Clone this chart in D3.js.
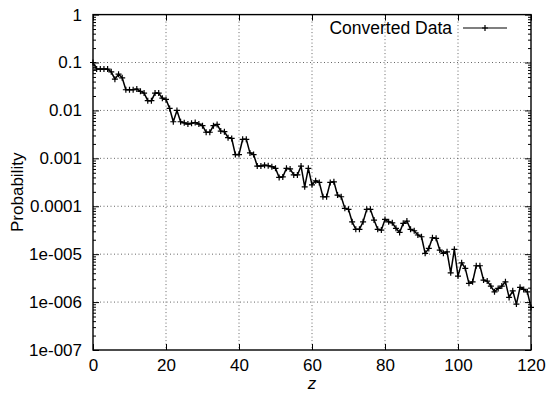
<!DOCTYPE html>
<html>
<head>
<meta charset="utf-8">
<script src="https://cdn.jsdelivr.net/npm/d3@7/dist/d3.min.js"></script>
<style>
  html, body { margin: 0; padding: 0; background: #fff; }
  svg { display: block; }
  text { font-family: "Liberation Sans", Arial, Helvetica, sans-serif; fill: #000; }
</style>
</head>
<body>
<svg id="chart" width="547" height="393"></svg>
<script>
// Probability of each z value, z = 0 .. 120 (one entry per integer z)
const probability = [
  0.1, 0.073, 0.073, 0.073, 0.073, 0.064, 0.045, 0.057, 0.048, 0.027,
  0.027, 0.027, 0.028, 0.025, 0.023, 0.016, 0.016, 0.023, 0.023, 0.018,
  0.017, 0.011, 0.0058, 0.010, 0.0058, 0.0055, 0.0052, 0.0054, 0.0056, 0.0052,
  0.0048, 0.0035, 0.0035, 0.0048, 0.0051, 0.0037, 0.0036, 0.0027, 0.0026, 0.0012,
  0.0012, 0.0025, 0.0025, 0.0013, 0.0012, 0.00069, 0.00069, 0.00072, 0.00070, 0.00067,
  0.00062, 0.00040, 0.00041, 0.00062, 0.00060, 0.00045, 0.00045, 0.00069, 0.000255, 0.00062,
  0.00028, 0.00034, 0.000315, 0.000158, 0.000158, 0.000315, 0.000324, 0.000171, 0.000158, 0.0000904,
  0.0000861, 0.0000474, 0.000033, 0.000033, 0.0000474, 0.0000861, 0.0000861, 0.0000515, 0.000033, 0.0000318,
  0.0000532, 0.0000474, 0.0000452, 0.0000346, 0.0000285, 0.000044, 0.0000491, 0.000033, 0.0000308, 0.0000251,
  0.0000231, 0.0000104, 0.0000132, 0.000022, 0.0000214, 0.0000122, 0.0000104, 0.0000112, 0.00000409, 0.0000126,
  0.00000349, 0.00000661, 0.00000506, 0.00000246, 0.00000265, 0.00000573, 0.00000573, 0.00000288, 0.00000274, 0.00000216,
  0.00000164, 0.00000193, 0.00000216, 0.00000265, 0.00000125, 0.00000172, 0.000000908, 0.00000203, 0.00000184, 0.00000164,
  0.000000775
];

const xTicks = [0, 20, 40, 60, 80, 100, 120];
const yTicks = [1e-7, 1e-6, 1e-5, 1e-4, 1e-3, 1e-2, 1e-1, 1];
const yTickLabels = ["1e-007", "1e-006", "1e-005", "0.0001", "0.001", "0.01", "0.1", "1"];
const seriesName = "Converted Data";
const xTitle = "z";
const yTitle = "Probability";

const svg = d3.select("#chart");
const plotLeft = 93, plotRight = 531, plotTop = 14.6, plotBottom = 350;
const fontSize = "17px";

const x = d3.scaleLinear().domain([0, 120]).range([plotLeft, plotRight]);
const y = d3.scaleLog().domain([1e-7, 1]).range([plotBottom, plotTop]);

// dotted grid at the inner major ticks
const grid = svg.append("g")
  .attr("stroke", "#666").attr("stroke-width", 1).attr("stroke-dasharray", "1,2.5");
xTicks.slice(1, -1).forEach(t => {
  grid.append("line").attr("x1", x(t)).attr("x2", x(t)).attr("y1", plotTop).attr("y2", plotBottom);
});
yTicks.slice(1, -1).forEach(t => {
  grid.append("line").attr("x1", plotLeft).attr("x2", plotRight).attr("y1", y(t)).attr("y2", y(t));
});

// axes: ticks drawn inward on all four sides
const majorLen = 6, minorLen = 3;
const bottomAxis = d3.axisBottom(x).tickValues(xTicks).tickSize(-majorLen).tickPadding(9)
  .tickFormat(d3.format("d"));
const topAxis = d3.axisTop(x).tickValues(xTicks).tickSize(-majorLen).tickFormat("");
const leftAxis = d3.axisLeft(y).tickValues(yTicks).tickSize(-majorLen).tickPadding(11)
  .tickFormat((d, i) => yTickLabels[i]);
const rightAxis = d3.axisRight(y).tickValues(yTicks).tickSize(-majorLen).tickFormat("");

// minor log ticks 2..9 within each decade
const minorTicks = [];
for (let e = -7; e < 0; e++) {
  for (let m = 2; m <= 9; m++) minorTicks.push(m * Math.pow(10, e));
}
const leftMinor = d3.axisLeft(y).tickValues(minorTicks).tickSize(-minorLen).tickFormat("");
const rightMinor = d3.axisRight(y).tickValues(minorTicks).tickSize(-minorLen).tickFormat("");

function styleAxis(g) {
  g.select(".domain").remove();
  g.selectAll(".tick line").attr("stroke", "#000").attr("stroke-width", 1);
  g.selectAll(".tick text").style("font-size", fontSize).attr("fill", "#000");
}

svg.append("g").attr("transform", `translate(0,${plotBottom})`).call(bottomAxis).call(styleAxis);
svg.append("g").attr("transform", `translate(0,${plotTop})`).call(topAxis).call(styleAxis);
svg.append("g").attr("transform", `translate(${plotLeft},0)`).call(leftAxis).call(styleAxis);
svg.append("g").attr("transform", `translate(${plotRight},0)`).call(rightAxis).call(styleAxis);
svg.append("g").attr("transform", `translate(${plotLeft},0)`).call(leftMinor).call(styleAxis);
svg.append("g").attr("transform", `translate(${plotRight},0)`).call(rightMinor).call(styleAxis);

// frame
svg.append("rect")
  .attr("x", plotLeft).attr("y", plotTop)
  .attr("width", plotRight - plotLeft).attr("height", plotBottom - plotTop)
  .attr("fill", "none").attr("stroke", "#000").attr("stroke-width", 1.4);

// series
const points = probability.map((p, i) => ({ z: i, p }));
const line = d3.line().x(d => x(d.z)).y(d => y(d.p));
svg.append("path")
  .datum(points)
  .attr("fill", "none").attr("stroke", "#000").attr("stroke-width", 1.5)
  .attr("stroke-linejoin", "round")
  .attr("d", line);

const plus = "M-3,0H3M0,-3V3";
svg.append("g").selectAll("path")
  .data(points).join("path")
  .attr("transform", d => `translate(${x(d.z)},${y(d.p)})`)
  .attr("d", plus)
  .attr("stroke", "#000").attr("stroke-width", 1.2).attr("fill", "none");

// legend
const legY = 28;
svg.append("text").attr("x", 452).attr("y", legY + 6).attr("text-anchor", "end")
  .style("font-size", "17.5px").text(seriesName);
svg.append("line").attr("x1", 463).attr("x2", 507).attr("y1", legY).attr("y2", legY)
  .attr("stroke", "#000").attr("stroke-width", 1.2);
svg.append("path").attr("transform", `translate(485,${legY})`).attr("d", plus)
  .attr("stroke", "#000").attr("stroke-width", 1.2);

// axis titles
svg.append("text").attr("x", (plotLeft + plotRight) / 2).attr("y", 389).attr("text-anchor", "middle")
  .style("font-size", fontSize).style("font-style", "italic").text(xTitle);
svg.append("text")
  .attr("transform", `translate(23,${(plotTop + plotBottom) / 2 + 10}) rotate(-90)`)
  .attr("text-anchor", "middle")
  .style("font-size", fontSize).text(yTitle);
</script>
</body>
</html>
